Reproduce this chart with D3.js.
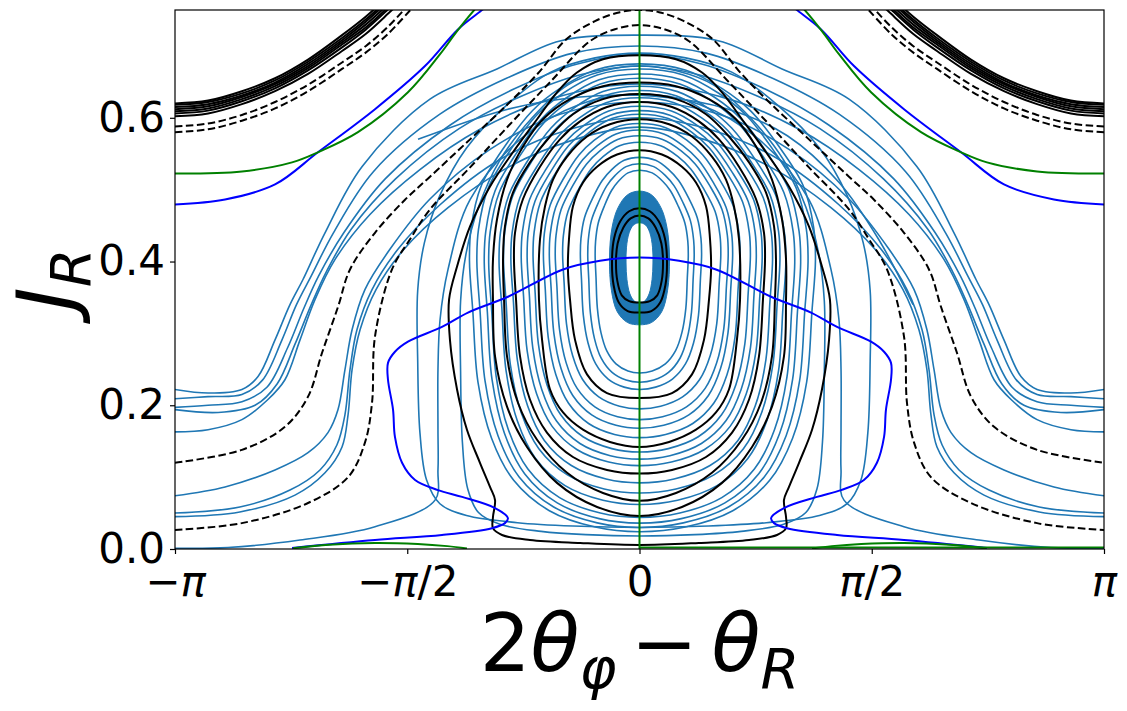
<!DOCTYPE html>
<html><head><meta charset="utf-8">
<script src="https://cdn.jsdelivr.net/npm/d3@7"></script>
<style>body{margin:0;background:#fff}svg{display:block}</style>
</head><body>
<svg id="chart" width="1127" height="711"></svg>
<script>
const PI = Math.PI;
// ---------- axes ----------
const xTickValues = [-PI, -PI/2, 0, PI/2, PI];
const xTickLabels = ["−π", "−π/2", "0", "π/2", "π"];
const yTickValues = [0, 0.2, 0.4, 0.6];
const yTickLabels = ["0.0", "0.2", "0.4", "0.6"];

// ---------- black closed contours (left halves, top -> bottom) ----------
const blackLoop1 = [[0,.555],[-.152,.549],[-.287,.532],[-.382,.510],[-.450,.477],[-.477,.431],[-.484,.389],[-.470,.347],[-.436,.291],[-.355,.243],[-.220,.217],[0,.210]];
const blackLoop2 = [[0,.598],[-.200,.591],[-.355,.574],[-.490,.546],[-.585,.514],[-.639,.477],[-.673,.431],[-.680,.347],[-.659,.291],[-.605,.222],[-.517,.190],[-.382,.166],[-.200,.149],[0,.142]];
const blackLoop3 = [[0,.622],[-.220,.615],[-.402,.595],[-.538,.570],[-.673,.532],[-.788,.487],[-.842,.440],[-.849,.403],[-.835,.347],[-.808,.268],[-.741,.208],[-.626,.162],[-.450,.128],[-.220,.110],[0,.105]];
const blackLoop4 = [[0,.633],[-.247,.626],[-.450,.605],[-.605,.574],[-.741,.538],[-.856,.496],[-.910,.449],[-.923,.403],[-.916,.347],[-.896,.268],[-.822,.2035],[-.693,.152],[-.490,.106],[-.247,.078],[0,.067]];
const blackLoop5 = [[0,.649],[-.247,.644],[-.470,.626],[-.653,.598],[-.788,.560],[-.896,.514],[-.964,.4585],[-.991,.403],[-.991,.347],[-.977,.268],[-.896,.198],[-.761,.142],[-.558,.092],[-.287,.0585],[0,.046]];
const blackLoop6 = [[0,.687],[-.247,.6815],[-.423,.663],[-.558,.6355],[-.693,.598],[-.856,.552],[-1.011,.5045],[-1.146,.449],[-1.234,.393],[-1.288,.347],[-1.282,.291],[-1.234,.222],[-1.167,.166],[-1.079,.120],[-1.011,.0864],[-0.977,.068],[-0.991,.0446],[-0.991,.029],[-0.930,.0195],[-0.741,.0125],[-0.402,.0084],[0,.0056]];
const islandLoopOuter = [[0,.474],[-.07,.470],[-.13,.456],[-.172,.432],[-.186,.40],[-.175,.367],[-.14,.343],[-.08,.331],[0,.329]];
const islandLoopInner = [[0,.464],[-.06,.460],[-.11,.447],[-.148,.425],[-.159,.40],[-.15,.373],[-.12,.353],[-.07,.345],[0,.343]];

// ---------- black dashed (left halves, edge -> centre) ----------
const dashedA = [[-3.142,.120],[-2.689,.138],[-2.398,.170],[-2.242,.212],[-2.147,.273],[-2.039,.337],[-1.958,.389],[-1.789,.440],[-1.586,.486],[-1.417,.518],[-1.146,.570],[-0.876,.622],[-0.673,.665],[-0.497,.709],[-0.301,.7345],[-0.132,.747],[0,.750]];
const dashedB = [[-3.142,.0265],[-2.689,.036],[-2.242,.064],[-1.971,.100],[-1.857,.148],[-1.809,.2035],[-1.789,.2955],[-1.674,.389],[-1.552,.431],[-1.417,.4725],[-1.146,.531],[-0.876,.591],[-0.605,.6495],[-0.335,.7066],[-0.166,.7233],[0,.729]];

// ---------- corner bundles (left side; mirrored to the right) ----------
const cornerX = [-3.142,-2.918,-2.689,-2.465,-2.242,-2.012,-1.85,-1.70,-1.55];
const cornerSolid = [
  [.620,.624,.637,.655,.681,.715,.741,.769,.800],
  [.618,.622,.634,.652,.678,.711,.737,.765,.795],
  [.615,.619,.631,.649,.675,.708,.734,.762,.792],
  [.612,.616,.629,.647,.672,.705,.730,.758,.788],
  [.609,.613,.626,.644,.669,.702,.726,.754,.784],
  [.606,.610,.623,.641,.666,.698,.723,.751,.781],
  [.602,.606,.619,.637,.661,.693,.717,.745,.775]
];
const cornerDashed = [
  [.588,.592,.604,.622,.646,.677,.700,.727,.760],
  [.580,.584,.596,.613,.637,.668,.691,.717,.750]
];

// ---------- blue (#0000ff) curves ----------
const blueTop = [[-3.142,.4795],[-2.803,.4864],[-2.465,.5073],[-2.175,.552],[-1.789,.612],[-1.451,.672],[-1.228,.723],[-1.058,.751],[-0.943,.770]];
const blueInner = [[-2.350,.0014],[-1.789,.0125],[-1.336,.0195],[-0.998,.029],[-0.910,.036],[-0.890,.043],[-0.977,.057],[-1.200,.0725],[-1.363,.082],[-1.518,.096],[-1.606,.120],[-1.654,.156],[-1.667,.194],[-1.701,.2355],[-1.701,.259],[-1.654,.2745],[-1.566,.2885],[-1.336,.309],[-1.160,.329],[-0.890,.351],[-0.517,.389],[-0.267,.401],[0,.4055]];

// ---------- green curves ----------
const greenTop = [[-3.142,.5226],[-2.689,.5254],[-2.350,.538],[-2.175,.552],[-1.904,.580],[-1.566,.6355],[-1.349,.6885],[-1.234,.7205],[-1.113,.751],[-1.011,.772]];
const greenBump = [[-2.343,.001],[-2.1,.006],[-1.79,.0085],[-1.5,.007],[-1.3,.004],[-1.167,.0008]];
const greenBase = [[0,.002],[3.142,.002]];
const greenAxis = [[0,0],[0,.75]];

// ---------- trajectories (tab blue) ----------
// loop shapes: [fraction of half-width, fraction of height from top]
const eggShape = [[0,0],[.26,.013],[.47,.053],[.63,.10],[.79,.175],[.93,.26],[.99,.35],[1,.42],[.98,.53],[.95,.68],[.87,.80],[.74,.89],[.53,.955],[.26,.99],[0,1]];
const boxShape = [[0,0],[.2,.01],[.4,.04],[.6,.11],[.78,.2],[.9,.3],[.97,.4],[1,.5],[1,.65],[.99,.8],[.96,.9],[.9,.95],[.78,.975],[.55,.99],[.3,.997],[0,1]];
// [top J, bottom J, left half-width, right half-width, shape]
const trajLoops = [
  [.545,.222,.40,.42,"egg"],[.536,.232,.35,.37,"egg"],[.527,.245,.30,.33,"egg"],
  [.566,.195,.52,.55,"egg"],[.575,.180,.57,.60,"egg"],[.583,.168,.61,.63,"egg"],
  [.592,.155,.65,.68,"egg"],[.605,.135,.72,.75,"egg"],[.610,.125,.76,.79,"egg"],
  [.616,.116,.80,.83,"egg"],[.628,.092,.87,.90,"egg"],[.638,.078,.92,.95,"egg"],
  [.644,.062,.95,.99,"egg"],[.655,.044,1.02,1.05,"egg"],[.661,.036,1.05,1.09,"egg"],
  [.668,.030,1.10,1.14,"egg"],[.675,.024,1.15,1.19,"egg"],
  [.672,.018,1.21,1.25,"box"],[.690,.030,1.50,1.56,"box"]
];
// edge-to-edge trajectories (left halves, edge -> centre)
const bell1 = [[-3.142,.222],[-2.918,.217],[-2.689,.222],[-2.58,.240],[-2.465,.291],[-2.364,.340],[-2.276,.375],[-2.127,.440],[-1.877,.532],[-1.417,.626],[-0.964,.668],[-0.538,.707],[0,.715]];
const bell2 = [[-3.142,.209],[-2.918,.212],[-2.689,.215],[-2.55,.235],[-2.42,.29],[-2.32,.34],[-2.22,.38],[-2.07,.44],[-1.80,.525],[-1.35,.605],[-0.90,.655],[-0.45,.69],[0,.70]];
const bell3 = [[-3.142,.197],[-2.918,.200],[-2.689,.205],[-2.52,.225],[-2.38,.28],[-2.27,.335],[-2.17,.38],[-2.00,.44],[-1.72,.515],[-1.28,.59],[-0.85,.64],[-0.42,.675],[0,.688]];
const bell4 = [[-3.142,.194],[-2.85,.19],[-2.60,.20],[-2.45,.23],[-2.33,.285],[-2.22,.34],[-2.12,.385],[-1.95,.445],[-1.65,.515],[-1.22,.585],[-0.80,.63],[-0.40,.66],[0,.672]];
const bell5 = [[-3.142,.163],[-2.918,.166],[-2.689,.180],[-2.513,.208],[-2.398,.2355],[-2.296,.291],[-2.195,.347],[-2.059,.403],[-1.823,.4655],[-1.485,.528],[-1.079,.584],[-0.605,.626],[0,.647]];
const bell6 = [[-3.142,.074],[-2.803,.0864],[-2.465,.110],[-2.242,.134],[-2.107,.162],[-2.039,.194],[-1.992,.2495],[-1.944,.305],[-1.857,.361],[-1.688,.417],[-1.417,.487],[-1.011,.556],[-0.538,.605],[0,.622]];
const bell7 = [[-3.142,.050],[-2.703,.0585],[-2.364,.082],[-2.161,.110],[-2.046,.145],[-1.992,.187],[-1.958,.2495],[-1.911,.305],[-1.809,.361],[-1.634,.417],[-1.349,.479],[-0.944,.542],[-0.470,.584],[0,.600]];
const bell8 = [[-3.142,.045],[-2.703,.0516],[-2.330,.075],[-2.127,.106],[-2.012,.142],[-1.971,.187],[-1.944,.2495],[-1.890,.305],[-1.782,.361],[-1.593,.417],[-1.295,.475],[-0.890,.531],[-0.436,.570],[0,.587]];
const bottomTraj = [[-3.142,.001],[-2.783,.002],[-2.296,.0125],[-1.789,.031],[-1.383,.068],[-1.363,.110],[-1.363,.166],[-1.363,.25],[-1.349,.319],[-1.295,.389],[-1.146,.486],[-0.808,.570],[-0.402,.619],[0,.633]];
const arcTraj = [[-1.498,.570],[-0.890,.612],[-0.402,.629],[0.1,.630],[0.6,.612],[1.0,.575],[1.35,.51],[1.62,.43],[1.85,.34]];
const islandBandOuter = [[0,.498],[-.08,.493],[-.145,.475],[-.185,.448],[-.203,.405],[-.19,.36],[-.15,.33],[-.08,.315],[0,.312]];
const islandBandInner = [[0,.454],[-.04,.451],[-.07,.44],[-.088,.42],[-.091,.398],[-.085,.375],[-.065,.355],[-.035,.345],[0,.343]];

// ---------- colours ----------
const C_TRAJ = "#1f77b4", C_BLUE = "#0000ff", C_GREEN = "#008000", C_BLACK = "#000000";

// ---------- setup ----------
const svg = d3.select("#chart");
const x = d3.scaleLinear().domain([-PI, PI]).range([175, 1104]);
const y = d3.scaleLinear().domain([0, 0.75]).range([549, 10]);

svg.append("defs").append("clipPath").attr("id","clip")
  .append("rect").attr("x",x(-PI)).attr("y",y(0.75)).attr("width",x(PI)-x(-PI)).attr("height",y(0)-y(0.75));

const lineOpen = d3.line().x(d=>x(d[0])).y(d=>y(d[1])).curve(d3.curveCatmullRom.alpha(0.5));
const lineClosed = d3.line().x(d=>x(d[0])).y(d=>y(d[1])).curve(d3.curveCatmullRomClosed.alpha(0.5));

const mirrorLoop = half => half.concat(half.slice(1,-1).reverse().map(([a,b])=>[-a,b]));
const mirrorOpen = half => half.concat(half.slice(0,-1).reverse().map(([a,b])=>[-a,b]));
const flip = arr => arr.map(([a,b])=>[-a,b]);
const shapes = {egg: eggShape, box: boxShape};
function loopFromShape([t,b,wl,wr,kind]){
  const s = shapes[kind], h = t-b;
  const left = s.map(([fx,fy])=>[-fx*wl, t-fy*h]);
  const right = s.slice(1,-1).reverse().map(([fx,fy])=>[fx*wr, t-fy*h]);
  return left.concat(right);
}

const plot = svg.append("g").attr("clip-path","url(#clip)");

// trajectories
const gT = plot.append("g").attr("fill","none").attr("stroke",C_TRAJ).attr("stroke-width",1.6);
gT.selectAll("path.loop").data(trajLoops).join("path").attr("class","loop").attr("d",d=>lineClosed(loopFromShape(d)));
gT.selectAll("path.bell").data([bell1,bell2,bell3,bell4,bell5,bell6,bell7,bell8,bottomTraj]).join("path")
  .attr("class","bell").attr("d",d=>lineOpen(mirrorOpen(d)));
gT.append("path").attr("d",lineOpen(arcTraj));
plot.append("path")
  .attr("d", lineClosed(mirrorLoop(islandBandOuter)) + lineClosed(mirrorLoop(islandBandInner)))
  .attr("fill",C_TRAJ).attr("fill-rule","evenodd").attr("stroke",C_TRAJ).attr("stroke-width",1);

// black contours
const gB = plot.append("g").attr("fill","none").attr("stroke",C_BLACK).attr("stroke-width",2);
gB.selectAll("path.bl").data([blackLoop1,blackLoop2,blackLoop3,blackLoop4,blackLoop5,blackLoop6,islandLoopOuter,islandLoopInner])
  .join("path").attr("class","bl").attr("d",d=>lineClosed(mirrorLoop(d)));
const cornerLines = rows => rows.flatMap(r => { const L = cornerX.map((v,i)=>[v,r[i]]); return [L, flip(L)]; });
gB.selectAll("path.cs").data(cornerLines(cornerSolid)).join("path").attr("class","cs").attr("d",lineOpen);
const gD = plot.append("g").attr("fill","none").attr("stroke",C_BLACK).attr("stroke-width",2).attr("stroke-dasharray","7.5,3.5");
gD.selectAll("path.cd").data(cornerLines(cornerDashed)).join("path").attr("class","cd").attr("d",lineOpen);
gD.selectAll("path.dd").data([dashedA,dashedB]).join("path").attr("class","dd").attr("d",d=>lineOpen(mirrorOpen(d)));

// blue curves
const gBl = plot.append("g").attr("fill","none").attr("stroke",C_BLUE).attr("stroke-width",2);
gBl.selectAll("path").data([blueTop, flip(blueTop), mirrorOpen(blueInner)]).join("path").attr("d",lineOpen);

// green curves
const gG = plot.append("g").attr("fill","none").attr("stroke",C_GREEN).attr("stroke-width",2);
gG.selectAll("path").data([greenTop, flip(greenTop), greenBump, flip(greenBump), greenBase, greenAxis]).join("path").attr("d",lineOpen);

// frame
svg.append("rect").attr("x",x(-PI)).attr("y",y(0.75)).attr("width",x(PI)-x(-PI)).attr("height",y(0)-y(0.75))
  .attr("fill","none").attr("stroke","#000").attr("stroke-width",1.2);

// label renderer: italic π
function richLabel(sel, str){
  sel.text(null);
  for (const ch of str){
    sel.append("tspan").attr("font-style", ch==="π" ? "italic" : "normal").text(ch);
  }
}

const FONT = "DejaVu Sans";
const xAxis = d3.axisBottom(x).tickValues(xTickValues).tickSize(5).tickSizeOuter(0).tickPadding(12)
  .tickFormat((d,i)=>xTickLabels[i]);
const gx = svg.append("g").attr("transform",`translate(0,${y(0)})`).call(xAxis);
gx.select(".domain").remove();
gx.selectAll(".tick line").attr("stroke","#000").attr("stroke-width",1.2);
gx.selectAll(".tick text").attr("font-family",FONT).attr("font-size",42).attr("fill","#000")
  .each(function(d,i){ richLabel(d3.select(this), xTickLabels[i]); });

const yAxis = d3.axisLeft(y).tickValues(yTickValues).tickSize(5).tickSizeOuter(0).tickPadding(5)
  .tickFormat((d,i)=>yTickLabels[i]);
const gy = svg.append("g").attr("transform",`translate(${x(-PI)},0)`).call(yAxis);
gy.select(".domain").remove();
gy.selectAll(".tick line").attr("stroke","#000").attr("stroke-width",1.2);
gy.selectAll(".tick text").attr("font-family",FONT).attr("font-size",42).attr("fill","#000");

// axis titles
const xl = svg.append("text").attr("x",(x(-PI)+x(PI))/2).attr("y",671).attr("text-anchor","middle")
  .attr("font-family",FONT).attr("font-size",80).attr("fill","#000");
xl.append("tspan").text("2");
xl.append("tspan").attr("font-style","italic").text("θ");
xl.append("tspan").attr("font-style","italic").attr("font-size",56).attr("dy",17).text("φ");
xl.append("tspan").attr("dy",-17).attr("dx",14).text("−");
xl.append("tspan").attr("font-style","italic").attr("dx",14).text("θ");
xl.append("tspan").attr("font-style","italic").attr("font-size",56).attr("dy",17).text("R");

const yl = svg.append("text").attr("transform",`translate(73,${(y(0)+y(0.75))/2}) rotate(-90)`).attr("text-anchor","middle")
  .attr("font-family",FONT).attr("font-size",80).attr("fill","#000");
yl.append("tspan").attr("font-style","italic").text("J");
yl.append("tspan").attr("font-style","italic").attr("font-size",56).attr("dy",17).text("R");
</script>
</body></html>
